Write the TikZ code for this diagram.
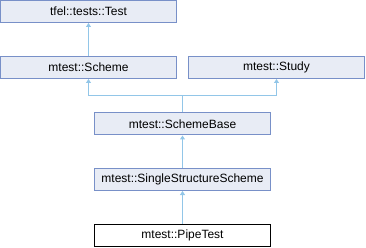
\documentclass[tikz,border=0pt]{standalone}
\usepackage{fontspec}
\setmainfont{Liberation Sans}
\usetikzlibrary{arrows.meta}
\definecolor{boxfill}{RGB}{232,236,245}
\definecolor{boxline}{RGB}{120,144,200}
\definecolor{inhline}{RGB}{146,198,232}
\tikzset{
  cls/.style={draw=boxline, fill=boxfill, line width=1pt, minimum width=176pt, minimum height=22pt, inner sep=0pt, font=\fontsize{12}{14}\selectfont},
  cur/.style={cls, draw=black, fill=white},
  inherit/.style={draw=inhline, line width=1pt, {Triangle[length=4pt, width=5pt, fill=inhline]}-}
}

\begin{document}
\begin{tikzpicture}[x=1pt, y=-1pt]
            \useasboundingbox (0, 0) rectangle (366, 248);
            \node[cls] (test) at (88.5, 11.5) {tfel::tests::Test};
            \node[cls] (scheme) at (88.5, 67.5) {mtest::Scheme};
            \node[cls] (study) at (276.5, 67.5) {mtest::Study};
            \node[cls] (base) at (182.5, 124) {mtest::SchemeBase};
            \node[cls] (single) at (182.5, 179.5) {mtest::SingleStructureScheme};
            \node[cur] (pipe) at (182.5, 235.5) {mtest::PipeTest};
            \coordinate (join) at (182.5, 96);
            \draw[inherit] (test) -- (scheme);
            \draw[inherit] (scheme) |- (join) -- (base);
            \draw[inherit] (study) |- (join);
            \draw[inherit] (base) -- (single);
            \draw[inherit] (single) -- (pipe);
          \end{tikzpicture}
\end{document}
